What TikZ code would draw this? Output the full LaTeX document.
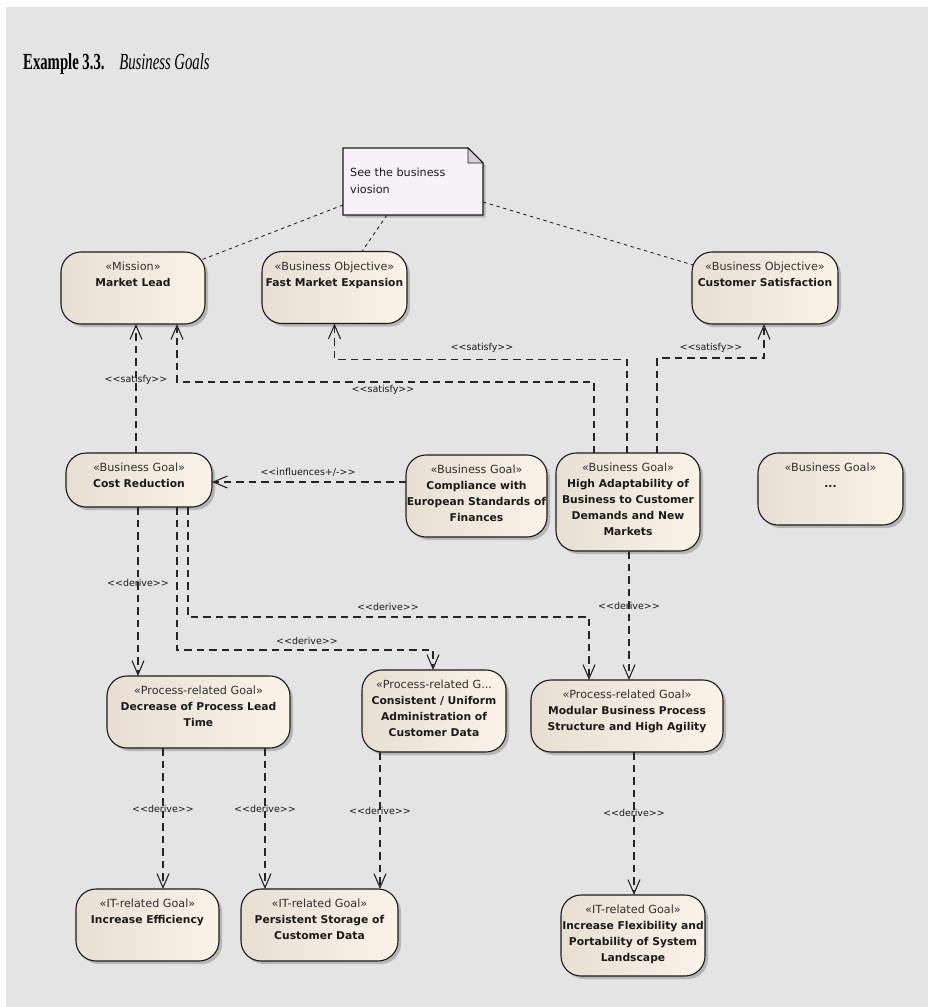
\documentclass[tikz,border=0pt]{standalone}
\usepackage{fontspec}
\usepackage{graphicx}
\setmainfont{DejaVu Sans}
\newfontfamily\lblfont{DejaVu Sans}[Ligatures=TeXOff]
\newfontfamily\titlefont{Liberation Serif}
\usetikzlibrary{arrows.meta,shadows}

\definecolor{canvas}{HTML}{E4E4E4}
\definecolor{goalL}{HTML}{E8DFD3}
\definecolor{goalR}{HTML}{FBF3E7}
\definecolor{notefill}{HTML}{F7F2F7}
\definecolor{foldfill}{HTML}{D6D1D6}
\definecolor{ink}{HTML}{1A1A1A}
\definecolor{stereo}{HTML}{303030}
\definecolor{lineink}{HTML}{262626}

% goal box text: width, height, stereotype, name lines
\newcommand\stereofont{\fontsize{11.2pt}{16pt}\selectfont\color{stereo}}
\newcommand\namefont{\fontsize{10.75pt}{16pt}\selectfont\bfseries\color{ink}}
\newcommand\gbox[4]{\parbox[c][#2pt][t]{#1pt}{\fontsize{10.75pt}{16pt}\selectfont\centering
  \rule{0pt}{18.5pt}{\stereofont «#3»}\\{\namefont #4}}}

\tikzset{
  goal/.style={draw=ink, line width=1.1pt, rounded corners=20pt,
    left color=goalL, right color=goalR, inner sep=0pt, outer sep=0pt,
    drop shadow={shadow xshift=3pt, shadow yshift=-3pt, fill=black, opacity=0.2}},
  dep/.style={draw=lineink, line width=1.1pt, dash pattern=on 7.5pt off 5pt,
    -{Straight Barb[length=14pt,width=12pt,line width=1.1pt]}},
  noteline/.style={draw=lineink, line width=0.9pt, dash pattern=on 3.5pt off 3.5pt},
  lbl/.style={font=\lblfont\fontsize{9.5pt}{11pt}\selectfont, text=ink, inner sep=0pt},
  notetxt/.style={font=\fontsize{11.2pt}{13pt}\selectfont, text=ink, inner sep=0pt, anchor=base west},
}

\begin{document}
\begin{tikzpicture}[x=1pt,y=-1pt]
\useasboundingbox (0,0) rectangle (928,1007);
\fill[white] (0,0) rectangle (928,1007);
\fill[canvas] (6,7) rectangle (928,1007);

% heading
\node[anchor=base west, inner sep=0pt] (title) at (23,69)
  {\scalebox{0.64}[1]{\titlefont\fontsize{23pt}{24pt}\selectfont\bfseries Example 3.3.\quad\mdseries\itshape Business Goals}};

% note with folded corner
\node[minimum width=140pt, minimum height=67pt, inner sep=0pt, outer sep=0pt] (note) at (413,181.5) {};
\fill[black, opacity=0.2] ([shift={(2.5pt,-2.5pt)}]note.south west) -- ([shift={(2.5pt,-2.5pt)}]note.north west)
  -- ([shift={(-12.5pt,-2.5pt)}]note.north east) -- ([shift={(2.5pt,-17.5pt)}]note.north east)
  -- ([shift={(2.5pt,-2.5pt)}]note.south east) -- cycle;
\draw[fill=notefill, line width=1.1pt, draw=ink] (note.south west) -- (note.north west)
  -- ([xshift=-15pt]note.north east) -- ([yshift=-15pt]note.north east) -- (note.south east) -- cycle;
\draw[fill=foldfill, line width=0.8pt, draw=ink] ([xshift=-15pt]note.north east)
  -- ([xshift=-15pt,yshift=-15pt]note.north east) -- ([yshift=-15pt]note.north east) -- cycle;
\node[notetxt] (nt1) at (350,176) {See the business};
\node[notetxt] (nt2) at (350,193) {viosion};

% goals
\node[goal] (ml)  at (133,288)   {\gbox{144}{72}{Mission}{Market Lead}};
\node[goal] (fme) at (334.5,287.5) {\gbox{145}{72}{Business Objective}{Fast Market Expansion}};
\node[goal] (cs)  at (765,288)   {\gbox{146}{72}{Business Objective}{Customer Satisfaction}};
\node[goal] (cr)  at (139,480)   {\gbox{146}{54}{Business Goal}{Cost Reduction}};
\node[goal] (comp) at (476.5,496) {\gbox{141}{82}{Business Goal}{Compliance with\\European Standards of\\Finances}};
\node[goal] (ha)  at (628,502)   {\gbox{144}{98}{Business Goal}{High Adaptability of\\Business to Customer\\Demands and New\\Markets}};
\node[goal] (bg)  at (830.5,489) {\gbox{145}{72}{Business Goal}{...}};
\node[goal] (dec) at (198.5,712) {\gbox{183}{72}{Process-related Goal}{Decrease of Process Lead\\Time}};
\node[goal] (con) at (434,711)   {\parbox[c][82pt][t]{144pt}{\fontsize{10.75pt}{16pt}\selectfont\centering
  \rule{0pt}{18.5pt}{\stereofont «Process-related G...}\\{\namefont Consistent / Uniform\\Administration of\\Customer Data}}};
\node[goal] (mod) at (627,716)   {\gbox{192}{72}{Process-related Goal}{Modular Business Process\\Structure and High Agility}};
\node[goal] (ie)  at (147.5,925) {\gbox{143}{72}{IT-related Goal}{Increase Efficiency}};
\node[goal] (ps)  at (319.5,925) {\gbox{157}{72}{IT-related Goal}{Persistent Storage of\\Customer Data}};
\node[goal] (ifp) at (633,935.5) {\gbox{144}{81}{IT-related Goal}{Increase Flexibility and\\Portability of System\\Landscape}};

% note links
\draw[noteline] ([yshift=-23.5pt]note.west) -- ([xshift=-4pt,yshift=28pt]ml.east);
\draw[noteline] ([xshift=-26pt]note.south) -- ([xshift=27.5pt]fme.north);
\draw[noteline] ([yshift=-20.5pt]note.east) -- ([xshift=1pt,yshift=23pt]cs.west);

% satisfy
\draw[dep] ([xshift=-3pt]cr.north) -- ([xshift=3pt]ml.south);
\draw[dep] ([xshift=-34pt]ha.north) |- ([xshift=44pt,yshift=-58pt]ml.south) -- ([xshift=44pt]ml.south);
\draw[dep] ([xshift=-1pt]ha.north) |- ([yshift=-36pt]fme.south) -- (fme.south);
\draw[dep] ([xshift=29pt]ha.north) |- ([xshift=-1pt,yshift=-34pt]cs.south) -- ([xshift=-1pt]cs.south);
\node[lbl] (s1) at (136,380) {<<satisfy>>};
\node[lbl] (s2) at (383,390) {<<satisfy>>};
\node[lbl] (s3) at (482,348) {<<satisfy>>};
\node[lbl] (s4) at (711,348) {<<satisfy>>};

% influences
\draw[dep] ([yshift=14pt]comp.west) -- ([yshift=-2pt]cr.east);
\node[lbl] (i1) at (308,472) {<<influences+/->>};

% derive
\draw[dep] ([xshift=-1pt]cr.south) -- ([xshift=-60.5pt]dec.north);
\draw[dep] ([xshift=38pt]cr.south) |- ([xshift=-1pt,yshift=20pt]con.north) -- ([xshift=-1pt]con.north);
\draw[dep] ([xshift=49pt]cr.south) |- ([xshift=-38pt,yshift=63pt]mod.north) -- ([xshift=-38pt]mod.north);
\draw[dep] ([xshift=1pt]ha.south) -- ([xshift=2pt]mod.north);
\draw[dep] ([xshift=-35.5pt]dec.south) -- ([xshift=15.5pt]ie.north);
\draw[dep] ([xshift=66.5pt]dec.south) -- ([xshift=-54.5pt]ps.north);
\draw[dep] ([xshift=-54pt]con.south) -- ([xshift=60.5pt]ps.north);
\draw[dep] ([xshift=7pt]mod.south) -- ([xshift=1pt]ifp.north);
\node[lbl] (d1) at (138,583) {<<derive>>};
\node[lbl] (d2) at (307,641) {<<derive>>};
\node[lbl] (d3) at (388,607) {<<derive>>};
\node[lbl] (d4) at (629,606) {<<derive>>};
\node[lbl] (d5) at (163,809) {<<derive>>};
\node[lbl] (d6) at (265,809) {<<derive>>};
\node[lbl] (d7) at (380,811) {<<derive>>};
\node[lbl] (d8) at (634,813) {<<derive>>};
\end{tikzpicture}
\end{document}
